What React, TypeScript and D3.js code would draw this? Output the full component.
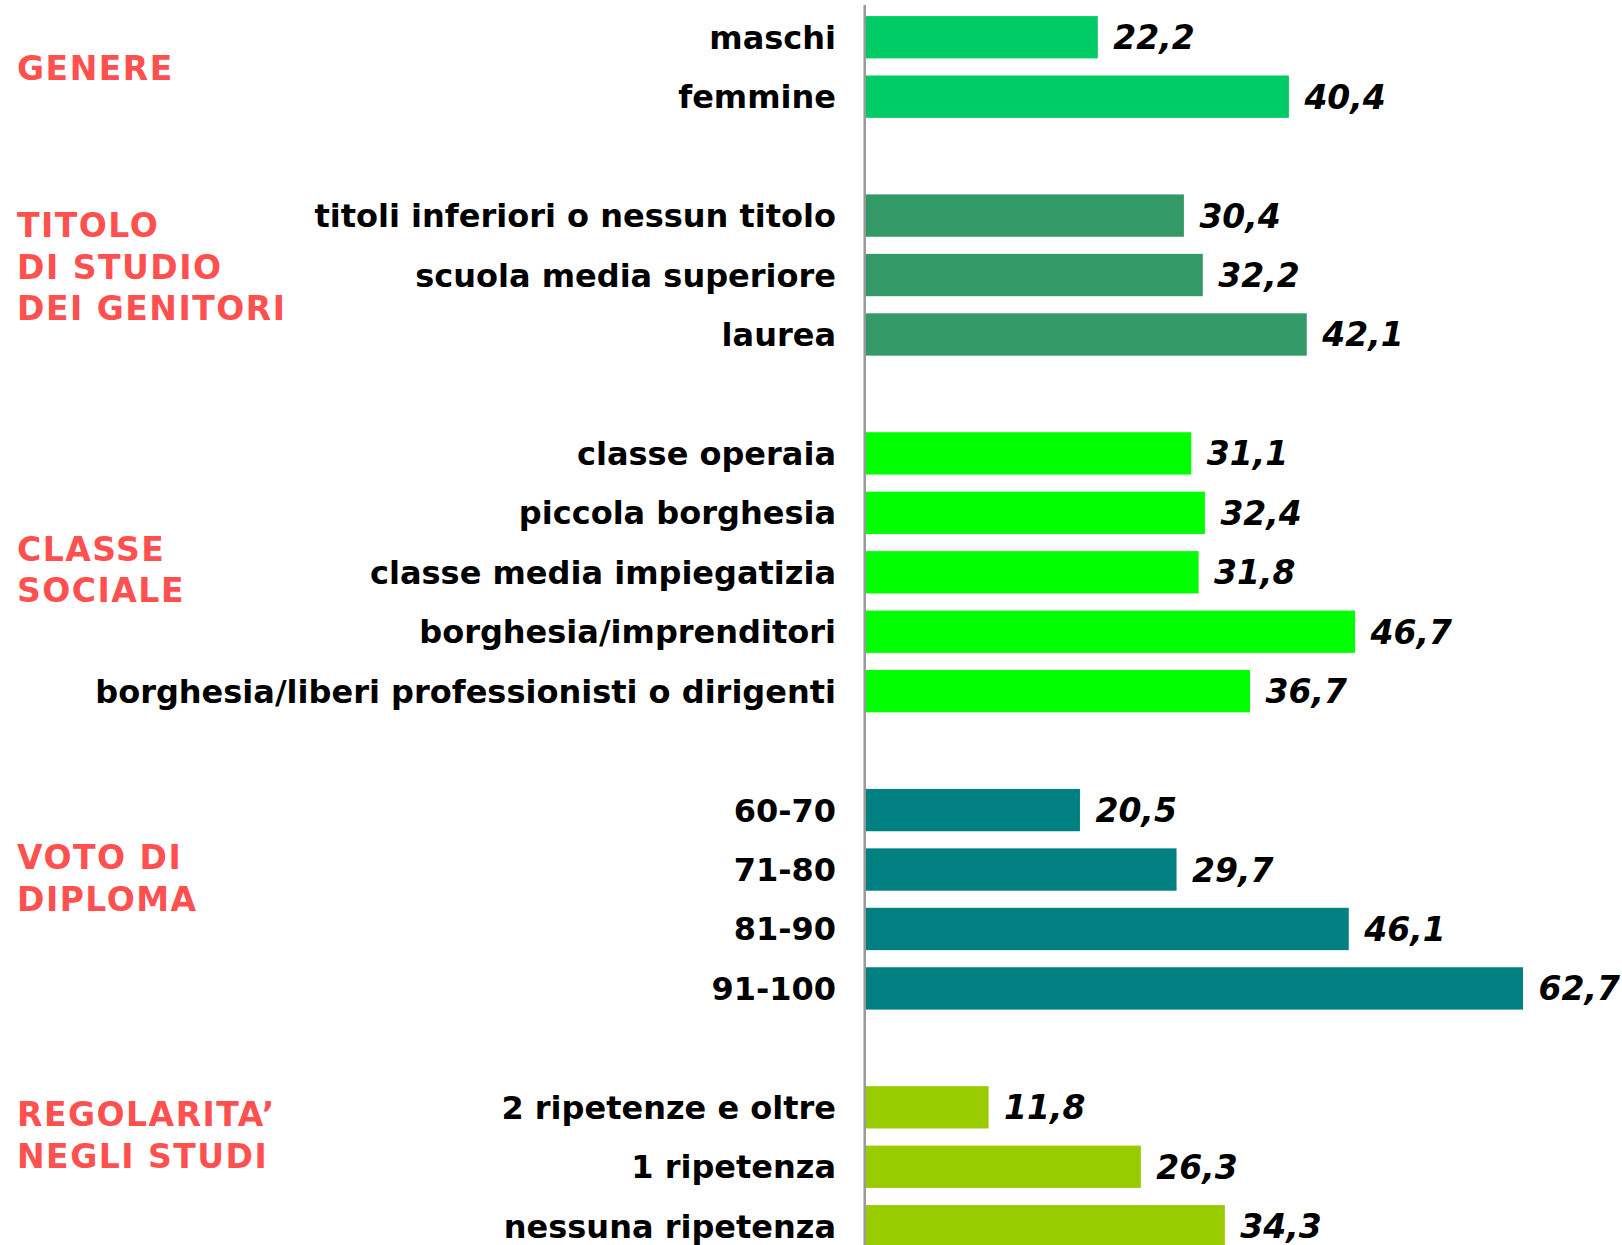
import * as d3 from 'd3'

// group titles (red, left column)
const GROUP_TITLES = [
  ['GENERE'],
  ['TITOLO', 'DI STUDIO', 'DEI GENITORI'],
  ['CLASSE', 'SOCIALE'],
  ['VOTO DI', 'DIPLOMA'],
  ['REGOLARITA\u2019', 'NEGLI STUDI'],
]

const GENERE = ['maschi', 'femmine']
const TITOLO = ['titoli inferiori o nessun titolo', 'scuola media superiore', 'laurea']
const CLASSE = [
  'classe operaia',
  'piccola borghesia',
  'classe media impiegatizia',
  'borghesia/imprenditori',
  'borghesia/liberi professionisti o dirigenti',
]
const VOTO = ['60-70', '71-80', '81-90', '91-100']
const REGOLARITA = ['2 ripetenze e oltre', '1 ripetenza', 'nessuna ripetenza']

const GENERE_VALUES = [22.2, 40.4]
const TITOLO_VALUES = [30.4, 32.2, 42.1]
const CLASSE_VALUES = [31.1, 32.4, 31.8, 46.7, 36.7]
const VOTO_VALUES = [20.5, 29.7, 46.1, 62.7]
const REGOLARITA_VALUES = [11.8, 26.3, 34.3]

const CATEGORIES = [GENERE, TITOLO, CLASSE, VOTO, REGOLARITA]
const VALUES = [GENERE_VALUES, TITOLO_VALUES, CLASSE_VALUES, VOTO_VALUES, REGOLARITA_VALUES]
const COLORS = ['#00CC66', '#339966', '#00FF00', '#008080', '#99CC00']

const W = 1622
const H = 1245
const AXIS_X = 864.7
const LABEL_RIGHT = 836
const FONT = '"DejaVu Sans", Verdana, sans-serif'
// baseline of first title line, relative to the top of the group's first bar
const TITLE_OFFSETS = [64, 43, 128.5, 80.4, 40]
const TITLE_LINE = 41.5

type Row = { key: string; label: string; value: number; group: number }

export default function App() {
  // one slot per bar, plus an empty slot between groups
  const rows: Row[] = []
  const slots: string[] = []
  CATEGORIES.forEach((cats, g) => {
    cats.forEach((c, i) => {
      const key = `${g}-${i}`
      rows.push({ key, label: c, value: VALUES[g][i], group: g })
      slots.push(key)
    })
    if (g < CATEGORIES.length - 1) slots.push(`gap-${g}`)
  })

  const step = 59.45
  const y = d3.scaleBand<string>()
    .domain(slots)
    .range([7.5, 7.5 + slots.length * step])
    .paddingInner(0.288)
    .paddingOuter(0.144)

  const x = d3.scaleLinear().domain([0, 70]).range([AXIS_X, AXIS_X + 735])
  const bw = y.bandwidth()
  const fmt = (v: number) => d3.format('.1f')(v).replace('.', ',')

  return (
    <svg
      width={W}
      height={H}
      style={{ position: 'absolute', left: 0, top: 0, background: '#fff' }}
      fontFamily={FONT}
    >
      {/* bars */}
      {rows.map((r) => (
        <rect
          key={r.key}
          x={x(0)}
          y={y(r.key)}
          width={x(r.value) - x(0)}
          height={bw}
          fill={COLORS[r.group]}
        />
      ))}

      {/* axis line */}
      <line x1={AXIS_X} x2={AXIS_X} y1={5} y2={H} stroke="#999" strokeWidth={2.5} />

      {/* category labels */}
      {rows.map((r) => (
        <text
          key={'l' + r.key}
          x={LABEL_RIGHT}
          y={(y(r.key) as number) + bw / 2}
          dy={11.5}
          textAnchor="end"
          fontSize={32}
          fontWeight="bold"
          fill="#000"
        >
          {r.label}
        </text>
      ))}

      {/* value labels */}
      {rows.map((r) => (
        <text
          key={'v' + r.key}
          x={x(r.value) + 15.5}
          y={(y(r.key) as number) + bw / 2}
          dy={12}
          fontSize={33}
          fontWeight="bold"
          fontStyle="italic"
          fill="#000"
        >
          {fmt(r.value)}
        </text>
      ))}

      {/* group titles */}
      {GROUP_TITLES.map((lines, g) => {
        const top = y(`${g}-0`) as number
        return (
          <text
            key={'g' + g}
            x={17}
            y={top + TITLE_OFFSETS[g]}
            fontSize={33}
            fontWeight="bold"
            fill="#FF5050"
            letterSpacing={1.5}
          >
            {lines.map((ln, i) => (
              <tspan key={i} x={17} dy={i === 0 ? 0 : TITLE_LINE}>
                {ln}
              </tspan>
            ))}
          </text>
        )
      })}
    </svg>
  )
}
